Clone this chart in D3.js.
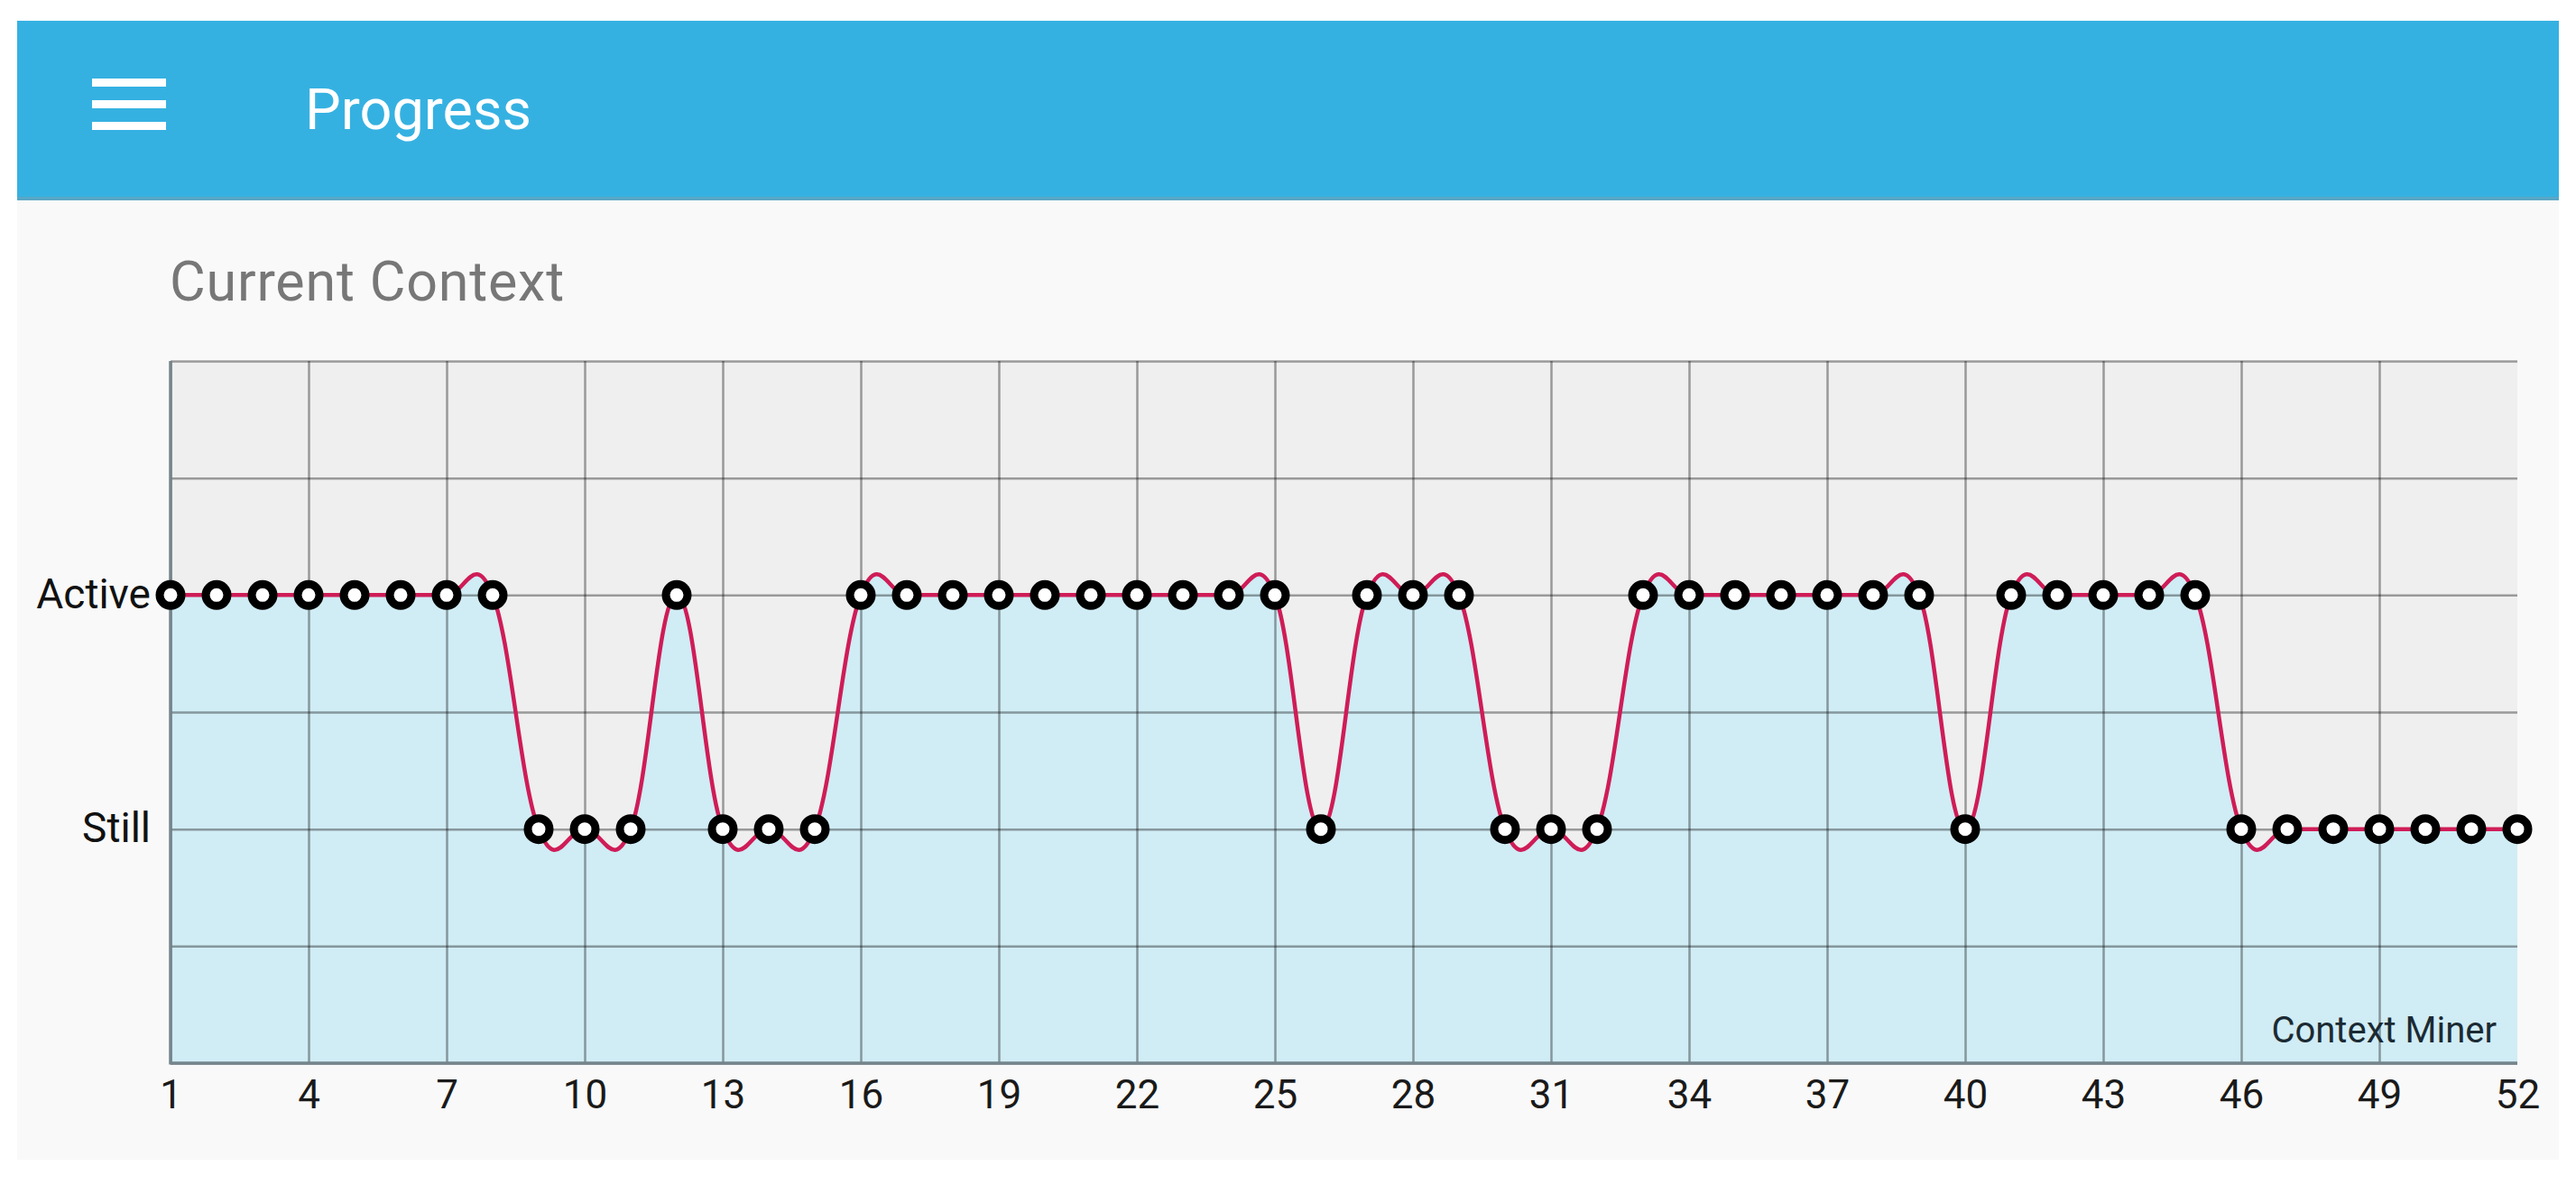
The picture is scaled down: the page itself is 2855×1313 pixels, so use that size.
<!DOCTYPE html>
<html>
<head>
<meta charset="utf-8">
<script src="https://cdn.jsdelivr.net/npm/d3@7"></script>
<style>
  html, body { margin: 0; padding: 0; background: #ffffff; }
  svg { display: block; font-family: Roboto, "Noto Sans", sans-serif; }
</style>
</head>
<body>
<div id="chart"></div>
<script>
// ---- Data ----
const stateLabels = ["Still", "Active"];
const days = [1,2,3,4,5,6,7,8,9,10,11,12,13,14,15,16,17,18,19,20,21,22,23,24,25,26,
              27,28,29,30,31,32,33,34,35,36,37,38,39,40,41,42,43,44,45,46,47,48,49,50,51,52];
const contextValues = [
  "Active","Active","Active","Active","Active","Active","Active","Active",
  "Still","Still","Still","Active","Still","Still","Still",
  "Active","Active","Active","Active","Active","Active","Active","Active","Active","Active",
  "Still","Active","Active","Active","Still","Still","Still",
  "Active","Active","Active","Active","Active","Active","Active",
  "Still","Active","Active","Active","Active","Active",
  "Still","Still","Still","Still","Still","Still","Still"
];
const xTickValues = [1,4,7,10,13,16,19,22,25,28,31,34,37,40,43,46,49,52];
const yGridValues = [-1,-0.5,0,0.5,1,1.5,2];
const titleText = "Progress";
const cardTitle = "Current Context";
const seriesName = "Context Miner";

const data = days.map((d, i) => ({ x: d, v: stateLabels.indexOf(contextValues[i]) }));

// ---- Layout ----
const W = 2855, H = 1313;
const plot = { left: 189, right: 2790, top: 400, bottom: 1178 };

const svg = d3.select("#chart").append("svg")
  .attr("width", W).attr("height", H);

svg.append("rect").attr("width", W).attr("height", H).attr("fill", "#ffffff");

// App bar
svg.append("rect").attr("x", 19).attr("y", 23).attr("width", 2817).attr("height", 197).attr("fill", "#35b1e1");
svg.append("rect").attr("x", 19).attr("y", 218).attr("width", 2817).attr("height", 4).attr("fill", "#58a7c6");
// Panel
svg.append("rect").attr("x", 19).attr("y", 222).attr("width", 2817).attr("height", 1063).attr("fill", "#f9f9f9");

// Hamburger
[87, 111, 135].forEach(yy => {
  svg.append("rect").attr("x", 102).attr("y", yy).attr("width", 82).attr("height", 9).attr("fill", "#ffffff");
});
svg.append("text").attr("x", 338).attr("y", 143)
  .attr("font-size", 63).attr("fill", "#ffffff").text(titleText);

svg.append("text").attr("x", 188).attr("y", 333)
  .attr("font-size", 61).attr("letter-spacing", 0.8).attr("fill", "#777777").text(cardTitle);

// ---- Scales ----
const x = d3.scaleLinear().domain([1, 52]).range([plot.left, plot.right]);
const y = d3.scaleLinear().domain([-1, 2]).range([plot.bottom, plot.top]);

// Plot background
svg.append("rect")
  .attr("x", plot.left).attr("y", plot.top)
  .attr("width", plot.right - plot.left).attr("height", plot.bottom - plot.top)
  .attr("fill", "#efefef");

svg.append("clipPath").attr("id", "clip").append("rect")
  .attr("x", plot.left).attr("y", plot.top)
  .attr("width", plot.right - plot.left).attr("height", plot.bottom - plot.top);

const curve = d3.curveCardinal.tension(-0.2);

// Area fill
const area = d3.area()
  .x(d => x(d.x)).y0(plot.bottom).y1(d => y(d.v)).curve(curve);
svg.append("path").datum(data)
  .attr("clip-path", "url(#clip)")
  .attr("d", area).attr("fill", "#d0ecf5");

// Grid
const gridStroke = "rgba(0,0,0,0.36)";
const gridX = svg.append("g").attr("transform", `translate(0,${plot.bottom})`)
  .call(d3.axisBottom(x).tickValues(xTickValues.filter(t => t < 52))
        .tickSize(-(plot.bottom - plot.top)).tickFormat(""));
gridX.select(".domain").remove();
gridX.selectAll(".tick line").attr("stroke", gridStroke).attr("stroke-width", 2.5);

const gridY = svg.append("g").attr("transform", `translate(${plot.left},0)`)
  .call(d3.axisLeft(y).tickValues(yGridValues)
        .tickSize(-(plot.right - plot.left)).tickFormat(""));
gridY.select(".domain").remove();
gridY.selectAll(".tick line").attr("stroke", gridStroke).attr("stroke-width", 2.5);

// Axis lines
svg.append("line").attr("x1", plot.left).attr("x2", plot.left)
  .attr("y1", plot.top).attr("y2", plot.bottom + 1.5)
  .attr("stroke", "#75858c").attr("stroke-width", 3.5);
svg.append("line").attr("x1", plot.left).attr("x2", plot.right)
  .attr("y1", plot.bottom).attr("y2", plot.bottom)
  .attr("stroke", "#75858c").attr("stroke-width", 3.5);

// X axis labels
const xAxis = svg.append("g").attr("transform", `translate(0,${plot.bottom})`)
  .call(d3.axisBottom(x).tickValues(xTickValues).tickSize(0).tickFormat(d3.format("d")));
xAxis.select(".domain").remove();
xAxis.selectAll("text")
  .attr("y", 50).attr("dy", 0)
  .attr("font-size", 44).attr("font-family", "Roboto").attr("fill", "#1a1a1a");

// Y axis labels
const yAxis = svg.append("g").attr("transform", `translate(${plot.left},0)`)
  .call(d3.axisLeft(y).tickValues([0, 1]).tickSize(0).tickFormat(d => stateLabels[d]));
yAxis.select(".domain").remove();
yAxis.selectAll("text")
  .attr("x", -22).attr("dy", "0.31em")
  .attr("font-size", 46).attr("font-family", "Roboto").attr("fill", "#111111");

// Line
const line = d3.line().x(d => x(d.x)).y(d => y(d.v)).curve(curve);
svg.append("path").datum(data)
  .attr("d", line).attr("fill", "none")
  .attr("stroke", "#cf1c57").attr("stroke-width", 4.5);

// Points
svg.append("g").selectAll("circle").data(data).join("circle")
  .attr("cx", d => x(d.x)).attr("cy", d => y(d.v))
  .attr("r", 12)
  .attr("fill", "#ffffff").attr("stroke", "#000000").attr("stroke-width", 9);

// Series label
svg.append("text").attr("x", 2767).attr("y", 1155)
  .attr("text-anchor", "end").attr("font-size", 40)
  .attr("fill", "#1b2a33").text(seriesName);
</script>
</body>
</html>
